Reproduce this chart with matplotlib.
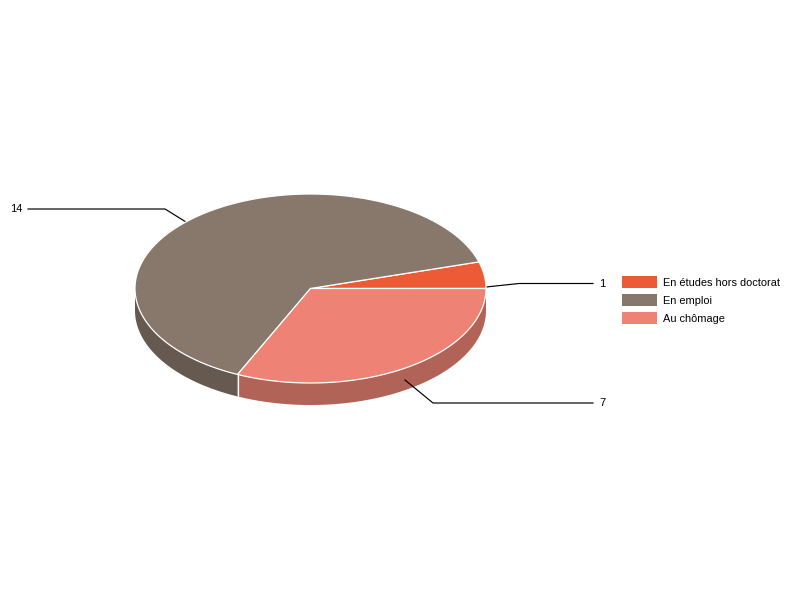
import numpy as np
import matplotlib
matplotlib.use("Agg")
import matplotlib.pyplot as plt
from matplotlib.patches import Polygon, Rectangle

categories = ["En études hors doctorat", "En emploi", "Au chômage"]
values = [1, 14, 7]
top_colors = ["#EC5B35", "#88786B", "#EE8275"]
side_colors = ["#B14F3E", "#665A50", "#B26358"]

# pie geometry in pixels
CX, CY = 310.5, 288.5
RX, RY = 175.5, 94.5
DEPTH = 22

plt.rcParams["font.family"] = ["Liberation Sans", "DejaVu Sans"]

fig = plt.figure(figsize=(8, 6), dpi=100)
ax = fig.add_axes([0, 0, 1, 1])
ax.set_xlim(0, 800)
ax.set_ylim(600, 0)
ax.axis("off")


def rim(a0, a1, n=200):
    t = np.linspace(a0, a1, n)
    return np.column_stack([CX + RX * np.cos(t), CY - RY * np.sin(t)])


edges = 2 * np.pi * np.concatenate([[0], np.cumsum(values)]) / np.sum(values)

# side walls: only the front half of the rim (angles pi to 2pi) is visible
for i in range(len(values)):
    a0, a1 = max(edges[i], np.pi), min(edges[i + 1], 2 * np.pi)
    if a1 <= a0:
        continue
    upper = rim(a0, a1)
    lower = upper[::-1] + [0, DEPTH]
    ax.add_patch(Polygon(np.vstack([upper, lower]), closed=True,
                         facecolor=side_colors[i], edgecolor="none", zorder=1))

# white divider down the visible slice boundary
for a in edges[:-1]:
    if np.pi < a < 2 * np.pi:
        x, y = rim(a, a, 1)[0]
        ax.plot([x, x], [y, y + DEPTH], color="white", lw=0.9, zorder=2)

# leader lines and value labels
leaders = [
    ([486, 519, 593], [287, 283.5, 283.5], 599.5, 284, "left"),
    ([186, 165, 28], [222, 209, 209], 22, 209.5, "right"),
    ([405, 433, 593], [380, 403, 403], 599, 402.5, "left"),
]
for (xs, ys, tx, ty, ha), v in zip(leaders, values):
    ax.plot(xs, ys, color="black", lw=0.85, zorder=2)
    ax.text(tx, ty, str(v), ha=ha, va="center", fontsize=8, color="black")

# top faces
for i in range(len(values)):
    pts = np.vstack([[CX, CY], rim(edges[i], edges[i + 1])])
    ax.add_patch(Polygon(pts, closed=True, facecolor=top_colors[i],
                         edgecolor="white", lw=0.9, joinstyle="round", zorder=3))

# legend
legend_y = [282, 300, 318]
for name, col, y in zip(categories, top_colors, legend_y):
    ax.add_patch(Rectangle((622, y - 6), 35, 12, facecolor=col, edgecolor="none"))
    ax.text(663, y + 0.7, name, ha="left", va="center", fontsize=7.88, color="black")

fig.savefig("out.png", dpi=100)
